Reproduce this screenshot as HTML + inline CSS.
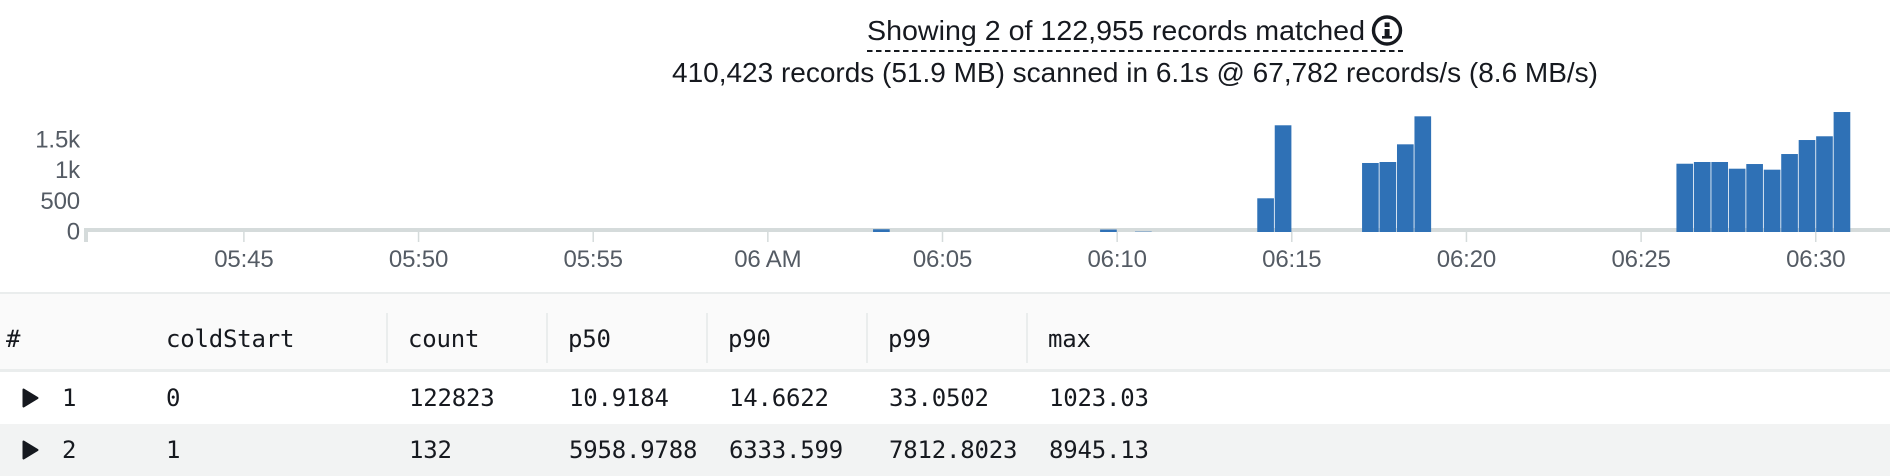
<!DOCTYPE html>
<html lang="en">
<head>
<meta charset="utf-8">
<title>Query results</title>
<style>
  html, body { margin: 0; padding: 0; background: #fff; }
  #page { position: relative; width: 1890px; height: 476px; overflow: hidden; background: #fff; }
  #chart { position: absolute; left: 0; top: 0; }
  .sans { font-family: "Liberation Sans", sans-serif; }
  #results-table { position: absolute; left: 0; top: 292px; width: 1890px; height: 184px; }
  .band { position: absolute; left: 0; width: 1890px; }
  .cell { position: absolute; font: 24px/30px "DejaVu Sans Mono", "Liberation Mono", monospace; color: #16191f; white-space: pre; letter-spacing: -0.2px; }
  .divider { position: absolute; top: 21px; width: 2px; height: 50px; background: #eaeded; }
  .toggle { position: absolute; left: 22px; width: 17px; height: 20px; }
</style>
</head>
<body>
<div id="page">
  <svg id="chart" width="1890" height="292" viewBox="0 0 1890 292">
    <text class="sans" x="867" y="40" font-size="28" fill="#16191f" textLength="498" lengthAdjust="spacingAndGlyphs">Showing 2 of 122,955 records matched</text>
    <line x1="867" y1="51" x2="1403" y2="51" stroke="#16191f" stroke-width="2" stroke-dasharray="5.5 3.5"/>
    <g>
      <circle cx="1387" cy="30.5" r="13.5" fill="#fff" stroke="#16191f" stroke-width="3.4"/>
      <rect x="1384.6" y="22.5" width="5" height="4.5" fill="#16191f"/>
      <rect x="1384.6" y="29" width="5" height="8.5" fill="#16191f"/>
      <rect x="1382" y="36" width="10" height="2.6" fill="#16191f"/>
    </g>
    <text class="sans" x="672" y="82" font-size="28" fill="#16191f" textLength="926" lengthAdjust="spacingAndGlyphs">410,423 records (51.9 MB) scanned in 6.1s @ 67,782 records/s (8.6 MB/s)</text>
    <g id="plot"></g>
  </svg>

  <div id="results-table">
    <div class="band" style="top:0;height:2px;background:#eaeded"></div>
    <div class="band" style="top:2px;height:75px;background:#fafafa"></div>
    <div class="band" style="top:77px;height:3px;background:#eaeded"></div>
    <div class="band" style="top:132px;height:52px;background:#f2f3f3"></div>

    <div class="divider" style="left:386px"></div>
    <div class="divider" style="left:546px"></div>
    <div class="divider" style="left:706px"></div>
    <div class="divider" style="left:866px"></div>
    <div class="divider" style="left:1026px"></div>

    <div class="cell" style="left:6px;top:32px">#</div>
    <div class="cell" style="left:166px;top:32px">coldStart</div>
    <div class="cell" style="left:408px;top:32px">count</div>
    <div class="cell" style="left:568px;top:32px">p50</div>
    <div class="cell" style="left:728px;top:32px">p90</div>
    <div class="cell" style="left:888px;top:32px">p99</div>
    <div class="cell" style="left:1048px;top:32px">max</div>

    <svg class="toggle" style="top:96px" viewBox="0 0 17 20"><polygon points="1.5,1.5 15.5,10 1.5,18.5" fill="#16191f" stroke="#16191f" stroke-width="2" stroke-linejoin="round"/></svg>
    <div class="cell" style="left:62px;top:91px">1</div>
    <div class="cell" style="left:166px;top:91px">0</div>
    <div class="cell" style="left:409px;top:91px">122823</div>
    <div class="cell" style="left:569px;top:91px">10.9184</div>
    <div class="cell" style="left:729px;top:91px">14.6622</div>
    <div class="cell" style="left:889px;top:91px">33.0502</div>
    <div class="cell" style="left:1049px;top:91px">1023.03</div>

    <svg class="toggle" style="top:148px" viewBox="0 0 17 20"><polygon points="1.5,1.5 15.5,10 1.5,18.5" fill="#16191f" stroke="#16191f" stroke-width="2" stroke-linejoin="round"/></svg>
    <div class="cell" style="left:62px;top:143px">2</div>
    <div class="cell" style="left:166px;top:143px">1</div>
    <div class="cell" style="left:409px;top:143px">132</div>
    <div class="cell" style="left:569px;top:143px">5958.9788</div>
    <div class="cell" style="left:729px;top:143px">6333.599</div>
    <div class="cell" style="left:889px;top:143px">7812.8023</div>
    <div class="cell" style="left:1049px;top:143px">8945.13</div>
  </div>
</div>

<script>
// Histogram data: each bin is 30 s wide, keyed by its start time (minutes since midnight).
var binStarts = [363, 369.5, 370.5, 374, 374.5, 377, 377.5, 378, 378.5,
                 386, 386.5, 387, 387.5, 388, 388.5, 389, 389.5, 390, 390.5];
var binCounts = [45, 40, 6, 549, 1738, 1124, 1140, 1428, 1884,
                 1112, 1140, 1140, 1031, 1107, 1015, 1270, 1498, 1559, 1954];
var binWidthMinutes = 0.5;

var xTickTimes = [345, 350, 355, 360, 365, 370, 375, 380, 385, 390];
var xTickLabels = ['05:45', '05:50', '05:55', '06 AM', '06:05', '06:10', '06:15', '06:20', '06:25', '06:30'];
var yTickValues = [0, 500, 1000, 1500];
var yTickLabels = ['0', '500', '1k', '1.5k'];

var SVG_NS = 'http://www.w3.org/2000/svg';
var plot = document.getElementById('plot');

function xScale(minutes) {
  return 243.9 + (minutes - 345) * 34.93;
}
function yScale(value) {
  return 232 - value * 0.0614;
}
function make(tag, attrs) {
  var el = document.createElementNS(SVG_NS, tag);
  for (var k in attrs) { el.setAttribute(k, attrs[k]); }
  plot.appendChild(el);
  return el;
}

var axisLine = make('rect', { x: 84, y: 228, width: 1806, height: 4, fill: '#d5dbdb' });



var axisStart = make('rect', { x: 84, y: 228, width: 4, height: 14, fill: '#d5dbdb' });



xTickTimes.forEach(function (t, i) {
  var tick = make('rect', { x: xScale(t) - 0.75, y: 232, width: 1.5, height: 10, fill: '#d5dbdb' });
  
  
  var label = make('text', { x: xScale(t), y: 267, 'text-anchor': 'middle', 'font-size': 24, 'letter-spacing': -0.15, fill: '#545b64', 'font-family': '"Liberation Sans", sans-serif' });
  label.textContent = xTickLabels[i];
  
  
});

yTickValues.forEach(function (v, i) {
  var label = make('text', { x: 80, y: yScale(v) + 7.5, 'text-anchor': 'end', 'font-size': 24, 'letter-spacing': -0.15, fill: '#545b64', 'font-family': '"Liberation Sans", sans-serif' });
  label.textContent = yTickLabels[i];
  
  
});

binStarts.forEach(function (start, i) {
  var x0 = xScale(start);
  var x1 = xScale(start + binWidthMinutes);
  var top = yScale(binCounts[i]);
  var bar = make('rect', { x: x0 + 0.4, y: top, width: x1 - x0 - 0.8, height: yScale(0) - top, fill: '#2f71b6' });
  
  
});
</script>
</body>
</html>
